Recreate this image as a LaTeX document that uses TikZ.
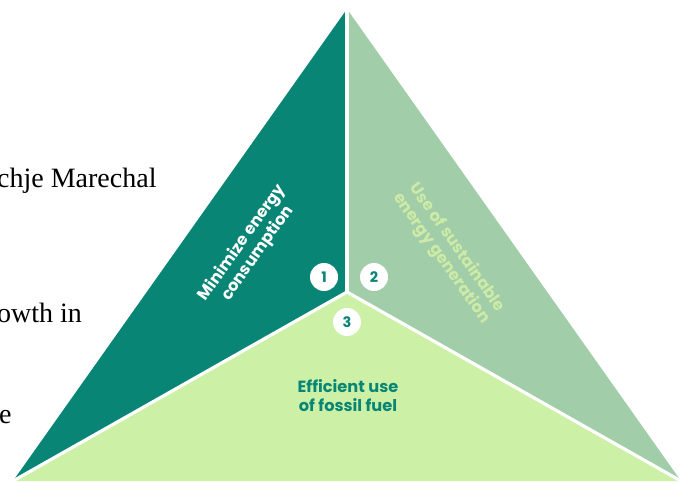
\documentclass[tikz,border=0pt]{standalone}
\usepackage{fontspec}
\usetikzlibrary{calc}
\setmainfont{Liberation Serif}
\newfontfamily\popfont{Poppins}
\definecolor{tealdark}{HTML}{088575}
\definecolor{sage}{HTML}{A1CDA8}
\definecolor{lightlime}{HTML}{CCF1A6}
\definecolor{sagetext}{HTML}{CDEBA6}
\tikzset{
  gap/.style={draw=white,line width=3.2pt,line cap=butt},
  label/.style={font=\popfont\bfseries\fontsize{16.2}{19}\selectfont,align=center,inner sep=0pt},
  badge/.style={circle,fill=white,minimum size=28pt,inner sep=0pt,text=tealdark,font=\popfont\bfseries\fontsize{14.5}{14.5}\selectfont},
  doctext/.style={font=\fontsize{28}{28}\selectfont,anchor=base west,inner sep=0pt}
}
\begin{document}
\begin{tikzpicture}[x=1pt,y=-1pt]
\useasboundingbox (0,0) rectangle (683,484);
\coordinate (A) at (347,9);
\coordinate (L) at (13,481);
\coordinate (R) at (681,481);
\coordinate (J) at (347,292);
\coordinate (Atop) at (347,5);
\fill[tealdark] (A) -- (J) -- (L) -- cycle;
\fill[sage] (A) -- (J) -- (R) -- cycle;
\fill[lightlime] (L) -- (J) -- (R) -- cycle;
\draw[gap] (J) -- (Atop);
\draw[gap] (J) -- (L);
\draw[gap] (J) -- (R);
\node[label,text=white,rotate=54.7] (t1) at (250,248) {Minimize energy\\consumption};
\node[label,text=sagetext,rotate=-54.7] (t2) at (449,253) {Use of sustainable\\energy generation};
\node[label,text=tealdark] (t3) at (348,396) {Efficient use\\of fossil fuel};
\node[badge] (b1) at (324,277) {1};
\node[badge] (b2) at (374,277) {2};
\node[badge] (b3) at (347,322) {3};
\node[doctext] (d1) at (-3,188) {chje Marechal};
\node[doctext] (d2) at (-3,322) {owth in};
\node[doctext] (d3) at (-1,423) {e};
\end{tikzpicture}
\end{document}
